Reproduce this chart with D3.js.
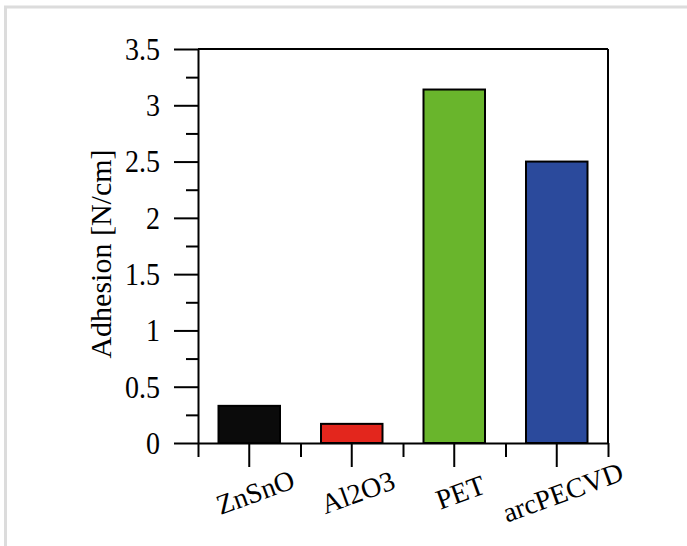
<!DOCTYPE html>
<html>
<head>
<meta charset="utf-8">
<script src="https://cdn.jsdelivr.net/npm/d3@7/dist/d3.min.js"></script>
<style>
  html, body { margin: 0; padding: 0; background: #ffffff; }
  svg { display: block; }
  text { font-family: "Liberation Serif", "Times New Roman", serif; fill: #000; }
</style>
</head>
<body>
<svg id="chart" width="687" height="546"></svg>
<script>
// ---- data ----
const categories = ["ZnSnO", "Al2O3", "PET", "arcPECVD"];
const adhesion = [0.33, 0.17, 3.14, 2.50];
const yMajorTicks = [0, 0.5, 1, 1.5, 2, 2.5, 3, 3.5];
const yMinorTicks = [0.25, 0.75, 1.25, 1.75, 2.25, 2.75, 3.25];
const yLabel = "Adhesion [N/cm]";
const barColors = ["#0b0b0b", "#e3261d", "#69b52c", "#2b4a9c"];

// ---- layout ----
const W = 687, H = 546;
const x0 = 198, x1 = 608, yTop = 49, yBot = 443;

const svg = d3.select("#chart");

// outer light frame (top and left)
svg.append("line").attr("x1", 4).attr("x2", W).attr("y1", 7).attr("y2", 7)
  .attr("stroke", "#dcdcdc").attr("stroke-width", 3);
svg.append("line").attr("x1", 5.5).attr("x2", 5.5).attr("y1", 6).attr("y2", H)
  .attr("stroke", "#dcdcdc").attr("stroke-width", 3);

const x = d3.scaleBand().domain(categories).range([x0, x1])
  .paddingInner(0.4).paddingOuter(0.2);
const y = d3.scaleLinear().domain([0, 3.5]).range([yBot, yTop]);
const color = d3.scaleOrdinal().domain(categories).range(barColors);

// bars
svg.append("g").selectAll("rect").data(categories).join("rect")
  .attr("x", d => x(d))
  .attr("width", x.bandwidth())
  .attr("y", (d, i) => y(adhesion[i]))
  .attr("height", (d, i) => y(0) - y(adhesion[i]))
  .attr("fill", d => color(d))
  .attr("stroke", "#000")
  .attr("stroke-width", 2);

// box top and right
svg.append("line").attr("x1", x0).attr("x2", x1).attr("y1", yTop).attr("y2", yTop)
  .attr("stroke", "#000").attr("stroke-width", 2);
svg.append("line").attr("x1", x1).attr("x2", x1).attr("y1", yTop).attr("y2", yBot)
  .attr("stroke", "#000").attr("stroke-width", 2);

// y axis minor ticks
svg.append("g").attr("transform", `translate(${x0},0)`)
  .call(d3.axisLeft(y).tickValues(yMinorTicks).tickSize(12).tickFormat(""))
  .call(g => g.select(".domain").remove())
  .selectAll("line").attr("stroke", "#000").attr("stroke-width", 2);

// y axis major ticks
const yAx = svg.append("g").attr("transform", `translate(${x0},0)`)
  .call(d3.axisLeft(y).tickValues(yMajorTicks).tickSize(24).tickPadding(14)
    .tickFormat(d => String(d)).tickSizeOuter(0));
yAx.attr("font-family", null);
yAx.select(".domain").attr("stroke", "#000").attr("stroke-width", 2);
yAx.selectAll(".tick line").attr("stroke", "#000").attr("stroke-width", 2);
yAx.selectAll(".tick text").attr("font-size", 28).attr("fill", "#000")
  .attr("transform", "scale(1,1.15)");

// x axis boundary (short) ticks
const boundaries = categories.map(c => x(c) - x.step() * x.paddingInner() / 2);
const xEdge = d3.scaleLinear().domain([x0, x1]).range([x0, x1]);
svg.append("g").attr("transform", `translate(0,${yBot})`)
  .call(d3.axisBottom(xEdge).tickValues([x0, ...boundaries.slice(1), x1]).tickSize(14).tickFormat(""))
  .call(g => g.select(".domain").remove())
  .selectAll("line").attr("stroke", "#000").attr("stroke-width", 2);

// x axis category (long) ticks
const xAx = svg.append("g").attr("transform", `translate(0,${yBot})`)
  .call(d3.axisBottom(x).tickSize(24).tickFormat("").tickSizeOuter(0));
xAx.select(".domain").attr("stroke", "#000").attr("stroke-width", 2);
xAx.selectAll(".tick line").attr("stroke", "#000").attr("stroke-width", 2);

// rotated category labels
svg.append("g").selectAll("text").data(categories).join("text")
  .attr("transform", d => `translate(${x(d) + x.bandwidth() / 2 + 6},${yBot + 49}) rotate(-20)`)
  .attr("text-anchor", "middle")
  .attr("dy", "0.35em")
  .attr("font-size", 28)
  .text(d => d);

// y label
svg.append("text")
  .attr("transform", `translate(100,254) rotate(-90)`)
  .attr("text-anchor", "middle")
  .attr("dy", "0.35em")
  .attr("font-size", 30)
  .text(yLabel);
</script>
</body>
</html>
